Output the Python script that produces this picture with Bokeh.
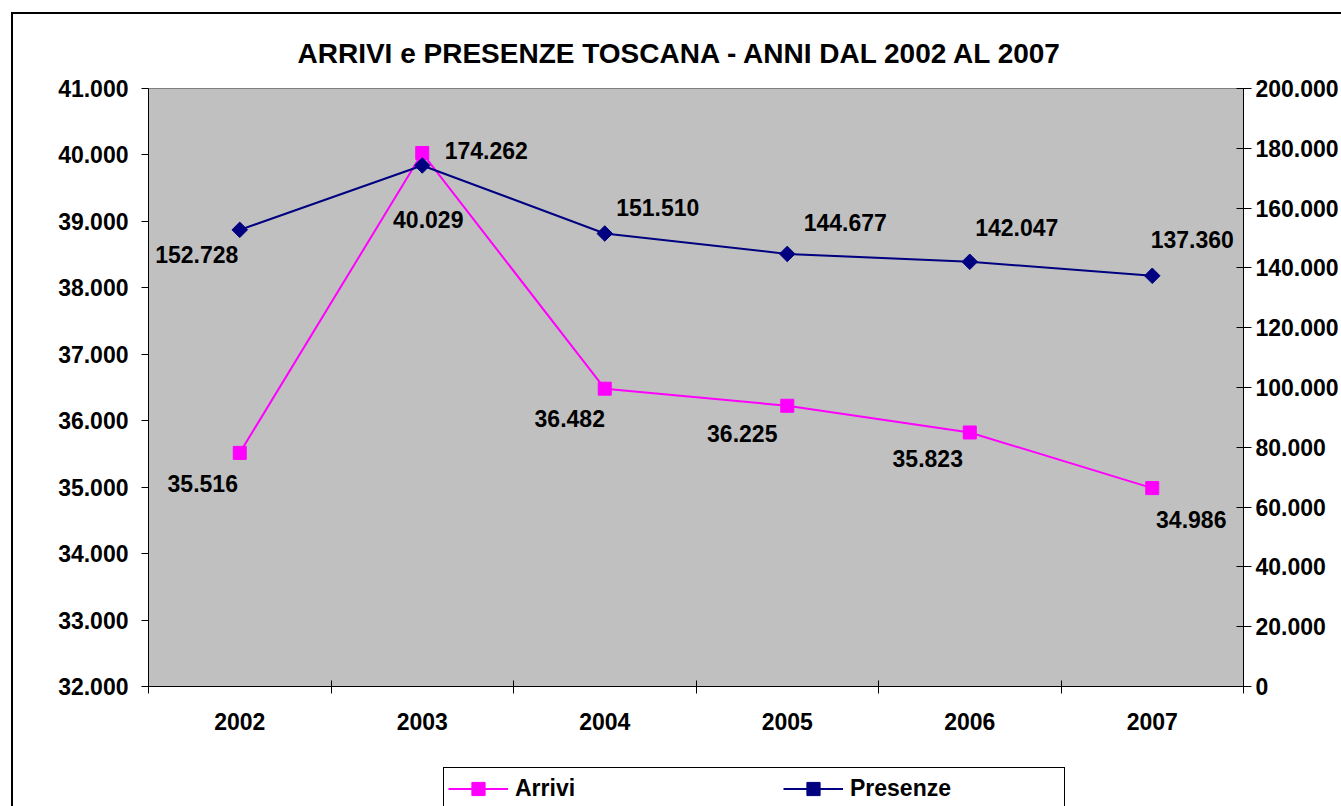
import numpy as np
from bokeh.plotting import figure
from bokeh.layouts import column
from bokeh.models import (Range1d, LinearAxis, FixedTicker, CustomJSTickFormatter,
                          Legend, LegendItem, ColumnDataSource)
from bokeh.embed import file_html
from bokeh.resources import INLINE
from bokeh.core.properties import value

# ---- data ----
years = ["2002", "2003", "2004", "2005", "2006", "2007"]
arrivi = [35516, 40029, 36482, 36225, 35823, 34986]
presenze = [152728, 174262, 151510, 144677, 142047, 137360]
left_ticks = list(range(32000, 41001, 1000))
right_ticks = list(range(0, 200001, 20000))
series_names = ["Arrivi", "Presenze"]

# ---- label placement (pixel offsets, y down) ----
arr_dx = [-37, 6, -35, -45, -42, 39]
arr_dy = [31, 66, 30, 28, 26, 31]
pres_dx = [-43, 64, 53, 58, 47, 40]
pres_dy = [25, -15, -26, -31, -34, -36]

FONT = "Liberation Sans"
PINK = "#FF00FF"
NAVY = "#000080"


def fmt(v):
    return f"{v:,}".replace(",", ".")


xs = [i + 0.5 for i in range(len(years))]
src = ColumnDataSource(dict(
    x=xs, arrivi=arrivi, presenze=presenze,
    arr_lbl=[fmt(v) for v in arrivi], pres_lbl=[fmt(v) for v in presenze],
    arr_dx=arr_dx, arr_dy=arr_dy, pres_dx=pres_dx, pres_dy=pres_dy,
))

p = figure(width=1341, height=766, output_backend="svg", toolbar_location=None,
           x_range=Range1d(0, len(years)), y_range=Range1d(32000, 41000),
           min_border_left=148, min_border_top=88, min_border_right=97,
           min_border_bottom=80)

p.background_fill_color = "#C0C0C0"
p.border_fill_color = "white"
p.border_fill_alpha = 0
p.outline_line_color = "#808080"
p.outline_line_width = 1
p.xgrid.visible = False
p.ygrid.visible = False

# title
p.title.text = "ARRIVI e PRESENZE TOSCANA - ANNI DAL 2002 AL 2007"
p.title.align = "left"
p.title.offset = 149
p.title.text_font = FONT
p.title.text_font_style = "bold"
p.title.text_font_size = "28px"
p.title.text_color = "black"
p.title.standoff = 40

numfmt = CustomJSTickFormatter(
    code="return Math.round(tick).toString().replace(/\\B(?=(\\d{3})+(?!\\d))/g, '.');")

# x axis
xa = p.xaxis[0]
xa.ticker = FixedTicker(ticks=xs, minor_ticks=list(range(len(years) + 1)))
xa.major_label_overrides = {x: y for x, y in zip(xs, years)}
xa.major_tick_in = 0
xa.major_tick_out = 0
xa.minor_tick_in = 6
xa.minor_tick_out = 7
xa.minor_tick_line_color = "black"
xa.axis_line_color = "black"
xa.major_label_standoff = 19
xa.major_label_text_font = FONT
xa.major_label_text_font_style = "bold"
xa.major_label_text_font_size = "23px"
xa.major_label_text_color = "black"

# left axis
ya = p.yaxis[0]
ya.ticker = FixedTicker(ticks=left_ticks)
ya.formatter = numfmt
ya.major_tick_in = 0
ya.major_tick_out = 7
ya.minor_tick_in = 0
ya.minor_tick_out = 0
ya.axis_line_color = "black"
ya.major_tick_line_color = "black"
ya.major_label_standoff = 13
ya.major_label_text_font = FONT
ya.major_label_text_font_style = "bold"
ya.major_label_text_font_size = "23px"
ya.major_label_text_color = "black"

# right axis
p.extra_y_ranges = {"pres": Range1d(0, 200000)}
ra = LinearAxis(y_range_name="pres", ticker=FixedTicker(ticks=right_ticks), formatter=numfmt)
ra.major_tick_in = 7
ra.major_tick_out = 8
ra.minor_tick_in = 0
ra.minor_tick_out = 0
ra.axis_line_color = "black"
ra.major_tick_line_color = "black"
ra.major_label_standoff = 4
ra.major_label_text_font = FONT
ra.major_label_text_font_style = "bold"
ra.major_label_text_font_size = "23px"
ra.major_label_text_color = "black"
p.add_layout(ra, "right")

# series
p.line("x", "arrivi", source=src, line_color=PINK, line_width=2)
p.scatter("x", "arrivi", source=src, marker="square", size=13,
          fill_color=PINK, line_color=PINK)
p.line("x", "presenze", source=src, y_range_name="pres", line_color=NAVY, line_width=2)
p.scatter("x", "presenze", source=src, y_range_name="pres", marker="square",
          angle=np.pi / 4, size=11, fill_color=NAVY, line_color=NAVY)

# data labels
p.text("x", "arrivi", text="arr_lbl", source=src, x_offset="arr_dx", y_offset="arr_dy",
       text_align="center", text_baseline="middle", text_font=value(FONT),
       text_font_style="bold", text_font_size="23px", text_color="black")
p.text("x", "presenze", text="pres_lbl", source=src, y_range_name="pres",
       x_offset="pres_dx", y_offset="pres_dy",
       text_align="center", text_baseline="middle", text_font=value(FONT),
       text_font_style="bold", text_font_size="23px", text_color="black")

# ---- legend strip below the chart (legend keys styled like the series) ----
pl = figure(width=1341, height=40, output_backend="svg", toolbar_location=None,
            x_range=Range1d(0, 1), y_range=Range1d(0, 1),
            x_axis_location=None, y_axis_location=None, min_border=0)
pl.grid.visible = False
pl.outline_line_color = None
pl.background_fill_alpha = 0
pl.border_fill_alpha = 0
nan = [float("nan")]  # legend keys only: nothing is drawn in the strip itself
ka_l = pl.line(nan, nan, line_color=PINK, line_width=2)
ka_m = pl.scatter(nan, nan, marker="square", size=13, fill_color=PINK, line_color=PINK)
kp_l = pl.line(nan, nan, line_color=NAVY, line_width=2)
kp_m = pl.scatter(nan, nan, marker="square", size=13, fill_color=NAVY, line_color=NAVY)

legend = Legend(
    items=[LegendItem(label=series_names[0], renderers=[ka_l, ka_m]),
           LegendItem(label=series_names[1], renderers=[kp_l, kp_m])],
    orientation="horizontal", location=(295, -4), margin=0, padding=4,
    spacing=58, label_width=210, glyph_width=60, glyph_height=33, label_standoff=7,
    border_line_color="black", border_line_width=1, border_line_alpha=1,
    background_fill_color="white", background_fill_alpha=1,
    label_text_font=FONT, label_text_font_style="bold", label_text_font_size="23px",
    label_text_color="black",
)
pl.add_layout(legend)

root = column(p, pl, spacing=0)
# outer chart-area border (left and top edges, as in the cropped reference)
root.styles = {"box-shadow": "inset 11px 12px 0 0 #ffffff, inset 13px 14px 0 0 #000000"}

open("out.html", "w").write(file_html(root, INLINE))
